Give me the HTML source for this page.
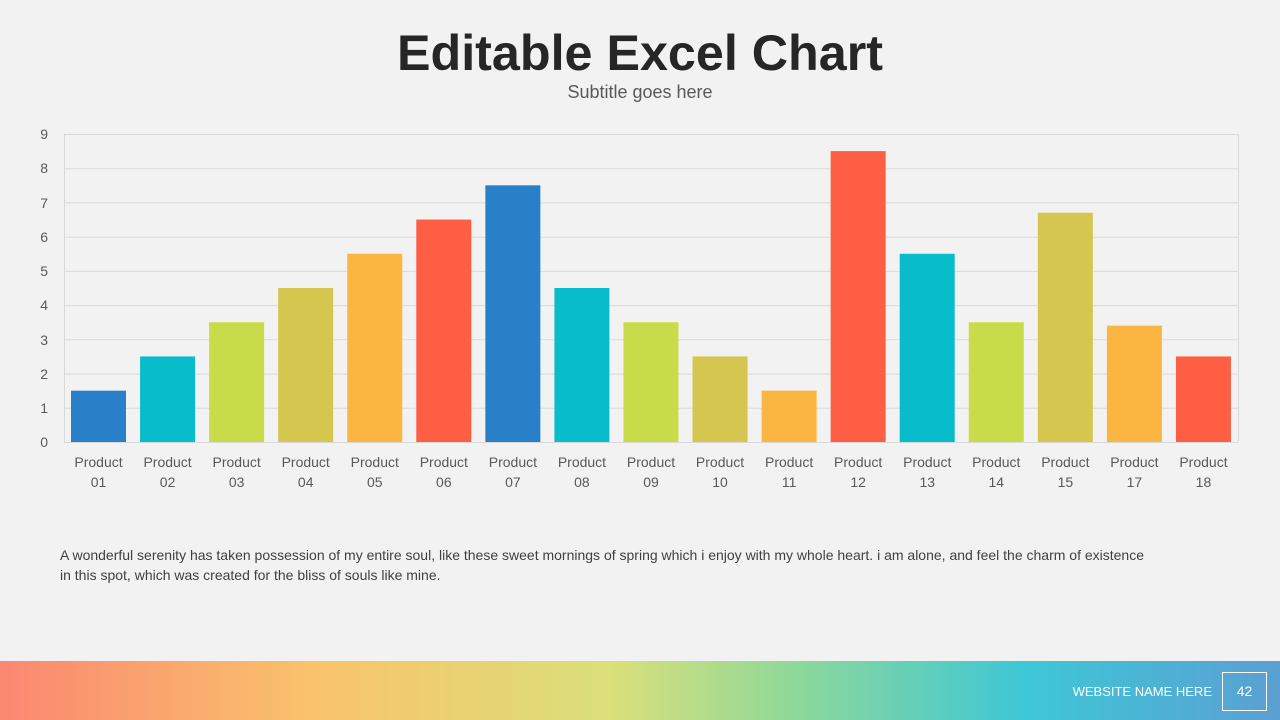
<!DOCTYPE html>
<html><head><meta charset="utf-8"><style>
html,body{margin:0;padding:0;background:#f2f2f2;}
body{width:1280px;height:720px;position:relative;overflow:hidden;font-family:"Liberation Sans",sans-serif;}
</style></head><body>
<svg width="1280" height="720" xmlns="http://www.w3.org/2000/svg" style="position:absolute;left:0;top:0">
<defs>
<linearGradient id="g" x1="0" x2="1" y1="0" y2="0">
<stop offset="0" stop-color="#fb8772"/>
<stop offset="0.25" stop-color="#f9c46b"/>
<stop offset="0.48" stop-color="#d9e07a"/>
<stop offset="0.62" stop-color="#8fd89a"/>
<stop offset="0.8" stop-color="#3ec7d6"/>
<stop offset="1" stop-color="#5b9fd3"/>
</linearGradient>
</defs>
<text x="640" y="70" text-anchor="middle" font-family="Liberation Sans, sans-serif" font-size="50" font-weight="bold" fill="#262626" textLength="486" lengthAdjust="spacingAndGlyphs">Editable Excel Chart</text>
<text x="640" y="98" text-anchor="middle" font-family="Liberation Sans, sans-serif" font-size="18" fill="#595959">Subtitle goes here</text>
<g stroke="#d9d9d9" stroke-width="1">
<line x1="64" y1="134.5" x2="1238" y2="134.5"/>
<line x1="64" y1="168.7" x2="1238" y2="168.7"/>
<line x1="64" y1="202.9" x2="1238" y2="202.9"/>
<line x1="64" y1="237.2" x2="1238" y2="237.2"/>
<line x1="64" y1="271.4" x2="1238" y2="271.4"/>
<line x1="64" y1="305.6" x2="1238" y2="305.6"/>
<line x1="64" y1="339.8" x2="1238" y2="339.8"/>
<line x1="64" y1="374.1" x2="1238" y2="374.1"/>
<line x1="64" y1="408.3" x2="1238" y2="408.3"/>
<line x1="64" y1="442.5" x2="1238" y2="442.5"/>
<line x1="64.5" y1="134" x2="64.5" y2="442"/>
<line x1="1238.5" y1="134" x2="1238.5" y2="442"/>
</g>
<g font-family="Liberation Sans, sans-serif" font-size="14" fill="#595959" text-anchor="end">
<text x="48" y="139">9</text><text x="48" y="173">8</text><text x="48" y="208">7</text><text x="48" y="242">6</text><text x="48" y="276">5</text><text x="48" y="310">4</text><text x="48" y="345">3</text><text x="48" y="379">2</text><text x="48" y="413">1</text><text x="48" y="447">0</text>
</g>
<g id="bars"></g>
<g id="labels" font-family="Liberation Sans, sans-serif" font-size="14" fill="#595959" text-anchor="middle"></g>
<rect x="0" y="661" width="1280" height="59" fill="url(#g)"/>
<text x="1212" y="696" text-anchor="end" font-family="Liberation Sans, sans-serif" font-size="13" fill="#ffffff">WEBSITE NAME HERE</text>
<rect x="1222.5" y="672.5" width="44" height="38" fill="none" stroke="#ffffff" stroke-width="1"/>
<text x="1244.5" y="696" text-anchor="middle" font-family="Liberation Sans, sans-serif" font-size="14" fill="#ffffff">42</text>
</svg>
<div style="position:absolute;left:60px;top:545px;width:1200px;white-space:nowrap;font-size:14px;line-height:20px;color:#404040;">A wonderful serenity has taken possession of my entire soul, like these sweet mornings of spring which i enjoy with my whole heart. i am alone, and feel the charm of existence<br>in this spot, which was created for the bliss of souls like mine.</div>
<script>
var v=[1.5,2.5,3.5,4.5,5.5,6.5,7.5,4.5,3.5,2.5,1.5,8.5,5.5,3.5,6.7,3.4,2.5];
var c=["#2a7fc9","#08bccc","#c8dc4a","#d4c64e","#fbb641","#fd5e44","#2a7fc9","#08bccc","#c8dc4a","#d4c64e","#fbb641","#fd5e44","#08bccc","#c8dc4a","#d4c64e","#fbb641","#fd5e44"];
var n=["01","02","03","04","05","06","07","08","09","10","11","12","13","14","15","17","18"];
var ns="http://www.w3.org/2000/svg",b=document.getElementById("bars"),l=document.getElementById("labels");
var step=1174/17,u=308/9;
for(var i=0;i<17;i++){
 var x=64+i*step+7,h=v[i]*u;
 var r=document.createElementNS(ns,"rect");
 r.setAttribute("x",x);r.setAttribute("y",442-h);r.setAttribute("width",55);r.setAttribute("height",h);r.setAttribute("fill",c[i]);b.appendChild(r);
 var cx=64+i*step+step/2;
 var t1=document.createElementNS(ns,"text");t1.setAttribute("x",cx);t1.setAttribute("y",467);t1.textContent="Product";l.appendChild(t1);
 var t2=document.createElementNS(ns,"text");t2.setAttribute("x",cx);t2.setAttribute("y",487);t2.textContent=n[i];l.appendChild(t2);
}
</script>
</body></html>
